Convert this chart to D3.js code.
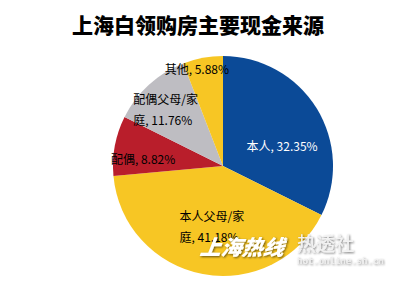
<!DOCTYPE html>
<meta charset="utf-8">
<style>
  body { margin: 0; background: #fff; }
  text { font-family: "Noto Sans CJK SC", "DejaVu Sans", sans-serif; }
</style>
<body>
<script src="https://d3js.org/d3.v7.min.js"></script>
<script>
  // chart data
  var categories = ["本人", "本人父母/家庭", "配偶", "配偶父母/家庭", "其他"];
  var values = [32.35, 41.18, 8.82, 11.76, 5.88];
  var labelLines = [["本人, 32.35%"], ["本人父母/家", "庭, 41.18%"], ["配偶, 8.82%"], ["配偶父母/家", "庭, 11.76%"], ["其他, 5.88%"]];
  var title = "上海白领购房主要现金来源";

  // look
  var colors = ["#0b4a97", "#f7c624", "#b91e2b", "#bebdc2", "#f7c624"];
  var textColors = ["#fff", "#000", "#000", "#000", "#000"];
  // nudges from the centroid so labels sit like the original
  var nudge = [[3, 16], [1, -3], [-15, 6], [-13, -7], [-14, -31]];

  var width = 400, height = 285;
  var cx = 223, cy = 166, radius = 110;

  var svg = d3.select("body").append("svg")
    .attr("width", width)
    .attr("height", height);

  var defs = svg.append("defs");
  var f = defs.append("filter").attr("id", "shadow")
    .attr("x", "-20%").attr("y", "-20%").attr("width", "140%").attr("height", "140%");
  f.append("feDropShadow").attr("dx", 1).attr("dy", 1).attr("stdDeviation", 0.8)
    .attr("flood-color", "#000").attr("flood-opacity", 0.6);

  // title
  svg.append("text")
    .attr("x", 198)
    .attr("y", 33)
    .attr("text-anchor", "middle")
    .style("font-size", "21px")
    .style("font-weight", "900")
    .attr("fill", "#000")
    .text(title);

  var pie = d3.pie().sort(null).value(function (d) { return d; });
  var arcs = pie(values);

  var arc = d3.arc().innerRadius(0).outerRadius(radius);
  var labelArc = d3.arc().innerRadius(radius * 0.6).outerRadius(radius * 0.6);

  var g = svg.append("g").attr("transform", "translate(" + cx + "," + cy + ")");

  g.selectAll("path.slice")
    .data(arcs)
    .enter().append("path")
    .attr("class", "slice")
    .attr("d", arc)
    .attr("fill", function (d, i) { return colors[i]; });

  // labels: lines left aligned, block centred on the point
  var lineGap = 21;
  arcs.forEach(function (d, i) {
    var c = labelArc.centroid(d);
    var x = c[0] + nudge[i][0], y = c[1] + nudge[i][1];
    var lines = labelLines[i];
    var t = g.append("text")
      .attr("text-anchor", "start")
      .attr("fill", textColors[i])
      .style("font-size", "12px");
    var spans = lines.map(function (ln, k) {
      return t.append("tspan")
        .attr("y", y + (k - (lines.length - 1) / 2) * lineGap + 4)
        .text(ln);
    });
    var w = d3.max(spans, function (s) { return s.node().getComputedTextLength(); });
    spans.forEach(function (s) { s.attr("x", x - w / 2); });
  });

  // watermark
  var wm = svg.append("g").attr("filter", "url(#shadow)");
  wm.append("text")
    .attr("x", 200).attr("y", 255)
    .attr("fill", "#fff")
    .style("font-size", "21px")
    .style("font-weight", "900")
    .style("font-style", "italic")
    .attr("transform", "skewX(-8)")
    .attr("transform-origin", "245 250")
    .text("上海热线");
  wm.append("text")
    .attr("x", 297).attr("y", 251)
    .attr("fill", "#f2f2f2")
    .style("font-size", "19px")
    .text("热透社");
  wm.append("text")
    .attr("x", 297).attr("y", 264)
    .attr("fill", "#eee")
    .style("font-size", "9px")
    .style("font-family", "DejaVu Sans Mono, monospace")
    .text("hot.online.sh.cn");
</script>
</body>
